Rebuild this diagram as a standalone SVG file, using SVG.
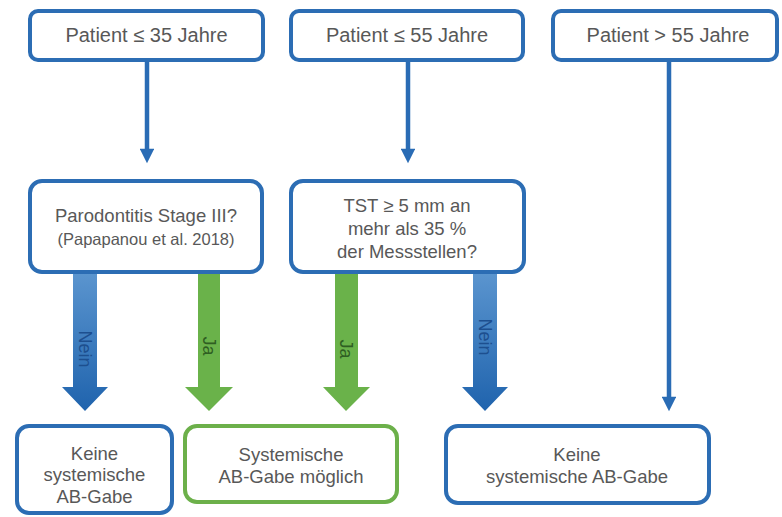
<svg xmlns="http://www.w3.org/2000/svg" width="782" height="517" viewBox="0 0 782 517">
<defs>
<style>
.bb{fill:#fff;stroke:#2c6db4;stroke-width:4}
.gb{fill:#fff;stroke:#6cb04a;stroke-width:4}
.t{font-family:"Liberation Sans",Arial,sans-serif;font-size:18.5px;fill:#585858;text-anchor:middle}
.p{font-size:20px}
.s{font-size:16.5px}
.thin{stroke:#2a6cb5;stroke-width:4.5;fill:none}
.lab{font-family:"Liberation Sans",Arial,sans-serif;font-size:18px;text-anchor:middle}
</style>
<linearGradient id="bg" x1="0" y1="0" x2="0" y2="1">
<stop offset="0" stop-color="#5b95cf"/>
<stop offset="1" stop-color="#1f63ad"/>
</linearGradient>
<marker id="ah" viewBox="0 0 10 10" refX="5" refY="5" markerWidth="3.4" markerHeight="3.2" orient="auto" markerUnits="strokeWidth">
<path d="M0,0 L10,5 L0,10 z" fill="#2a6cb5"/>
</marker>
</defs>
<rect width="782" height="517" fill="#fff"/>
<g id="connectors">
<line class="thin" x1="147" y1="60" x2="147" y2="156" marker-end="url(#ah)"/>
<line class="thin" x1="408" y1="60" x2="408" y2="156" marker-end="url(#ah)"/>
<line class="thin" x1="669" y1="60" x2="669" y2="404" marker-end="url(#ah)"/>
<g id="nein1">
<path d="M73,272 H97 V387 H108 L85,411 L62,387 H73 Z" fill="url(#bg)"/>
<text class="lab" fill="#1d4f8f" transform="translate(85,349) rotate(90)" dy="6">Nein</text>
</g>
<g id="ja1">
<path d="M198,272 H220 V387 H233 L209,411 L185,387 H198 Z" fill="#6ab24a"/>
<text class="lab" fill="#2f5e22" transform="translate(209,346) rotate(90)" dy="6">Ja</text>
</g>
<g id="ja2">
<path d="M335,272 H358 V387 H370 L346,411 L323,387 H335 Z" fill="#6ab24a"/>
<text class="lab" fill="#2f5e22" transform="translate(346,349) rotate(90)" dy="6">Ja</text>
</g>
<g id="nein2">
<path d="M473,272 H497 V387 H508 L485,411 L462,387 H473 Z" fill="url(#bg)"/>
<text class="lab" fill="#1d4f8f" transform="translate(485,337) rotate(90)" dy="6">Nein</text>
</g>
</g>
<g id="n1"><rect class="bb" x="30" y="11" width="233" height="49" rx="8"/><text class="t p" x="146.5" y="42">Patient ≤ 35 Jahre</text></g>
<g id="n2"><rect class="bb" x="291" y="11" width="232" height="49" rx="8"/><text class="t p" x="407" y="42">Patient ≤ 55 Jahre</text></g>
<g id="n3"><rect class="bb" x="553" y="11" width="224" height="49" rx="8"/><text class="t p" x="668" y="42">Patient &gt; 55 Jahre</text></g>
<g id="n4"><rect class="bb" x="30" y="181" width="232" height="91" rx="12"/><text class="t" x="146" y="222">Parodontitis Stage III?</text><text class="t s" x="146" y="245">(Papapanou et al. 2018)</text></g>
<g id="n5"><rect class="bb" x="291" y="181" width="233" height="91" rx="12"/><text class="t" x="407" y="212">TST ≥ 5 mm an</text><text class="t" x="407" y="235">mehr als 35 %</text><text class="t" x="407" y="258">der Messstellen?</text></g>
<g id="n6"><rect class="bb" x="17" y="426" width="155" height="87" rx="12"/><text class="t" x="94.5" y="460">Keine</text><text class="t" x="94.5" y="481">systemische</text><text class="t" x="94.5" y="503">AB-Gabe</text></g>
<g id="n7"><rect class="gb" x="185" y="426" width="212" height="76" rx="12"/><text class="t" x="291" y="461">Systemische</text><text class="t" x="291" y="483">AB-Gabe möglich</text></g>
<g id="n8"><rect class="bb" x="446" y="426" width="263" height="77" rx="12"/><text class="t" x="577" y="461">Keine</text><text class="t" x="577" y="483">systemische AB-Gabe</text></g>
</svg>
